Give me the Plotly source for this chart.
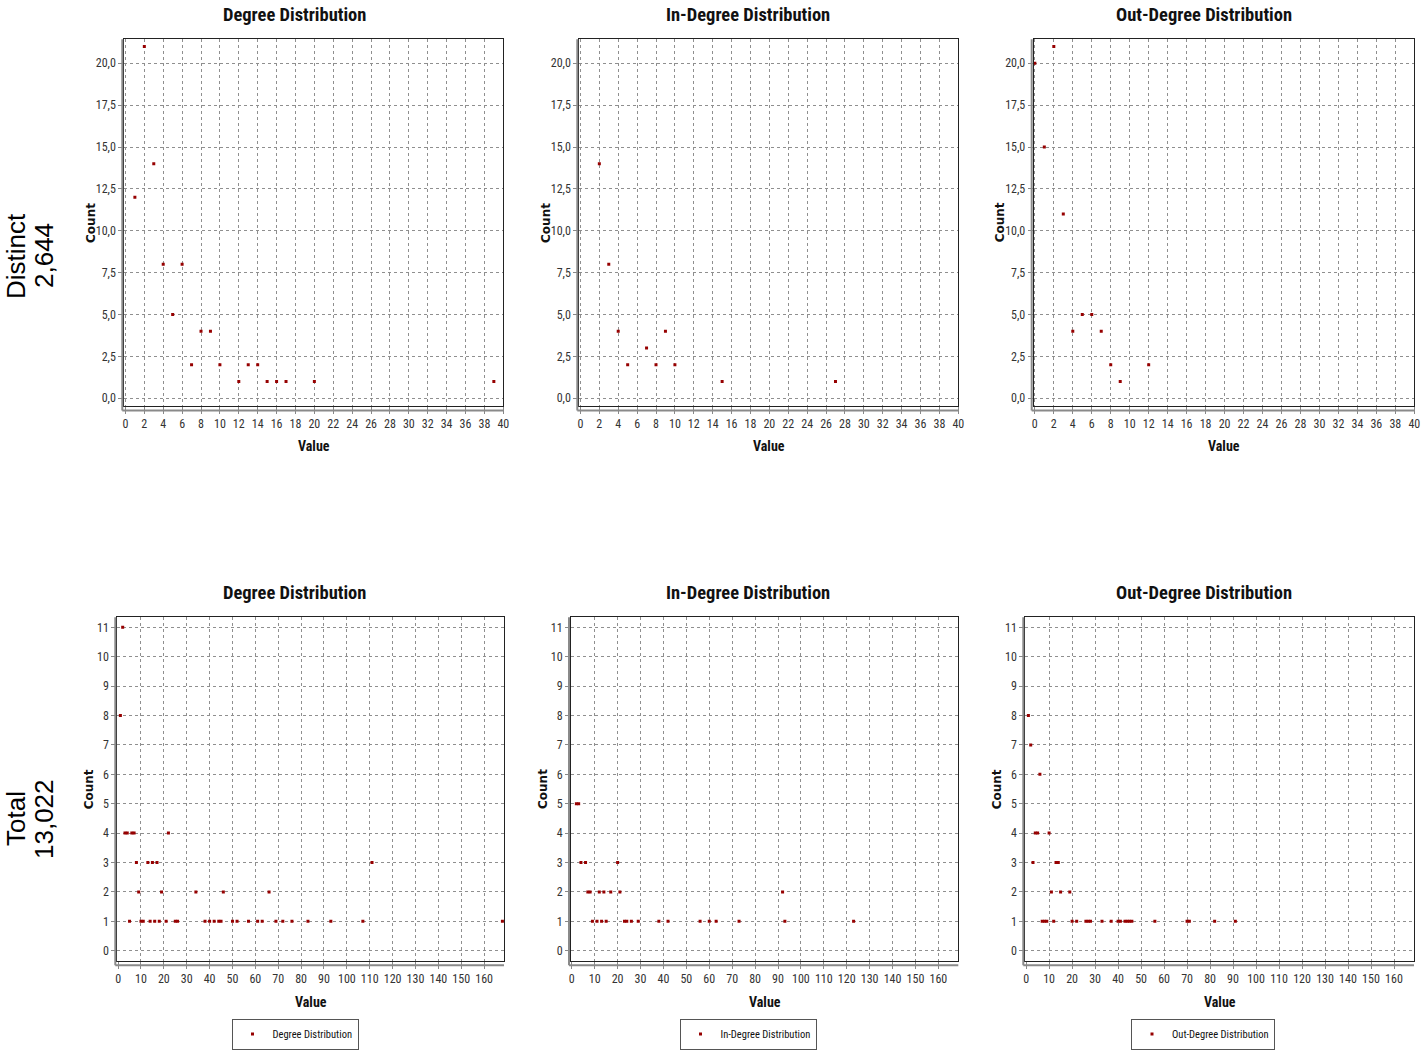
import plotly.graph_objects as go

# ---------------- data ----------------
# Distinct (top row)
deg_d_x = [1, 2, 3, 4, 5, 6, 7, 8, 9, 10, 12, 13, 14, 15, 16, 17, 20, 39]
deg_d_y = [12, 21, 14, 8, 5, 8, 2, 4, 4, 2, 1, 2, 2, 1, 1, 1, 1, 1]

in_d_x = [2, 3, 4, 5, 7, 8, 9, 10, 15, 27]
in_d_y = [14, 8, 4, 2, 3, 2, 4, 2, 1, 1]

out_d_x = [0, 1, 2, 3, 4, 5, 6, 7, 8, 9, 12]
out_d_y = [20, 15, 21, 11, 4, 5, 5, 4, 2, 1, 2]

# Total (bottom row)
deg_t_x = [2, 1, 3, 4, 6, 7, 22, 8, 13, 15, 17, 111, 9, 19, 34, 46, 66,
           5, 10, 11, 14, 16, 18, 21, 25, 26, 38, 40, 42, 44, 45, 50, 52, 57,
           61, 63, 69, 72, 76, 83, 93, 107, 168]
deg_t_y = [11, 8, 4, 4, 4, 4, 4, 3, 3, 3, 3, 3, 2, 2, 2, 2, 2,
           1, 1, 1, 1, 1, 1, 1, 1, 1, 1, 1, 1, 1, 1, 1, 1, 1,
           1, 1, 1, 1, 1, 1, 1, 1, 1]

in_t_x = [2, 3, 4, 6, 20, 7, 8, 12, 14, 17, 21, 92,
          9, 11, 13, 15, 23, 24, 26, 29, 38, 42, 56, 60, 63, 73, 93, 123]
in_t_y = [5, 5, 3, 3, 3, 2, 2, 2, 2, 2, 2, 2,
          1, 1, 1, 1, 1, 1, 1, 1, 1, 1, 1, 1, 1, 1, 1, 1]

out_t_x = [1, 2, 6, 4, 5, 10, 3, 13, 14, 11, 15, 19,
           7, 8, 9, 12, 20, 22, 26, 27, 28, 33, 37, 40, 41, 43, 44, 45, 46,
           56, 70, 71, 82, 91]
out_t_y = [8, 7, 6, 4, 4, 4, 3, 3, 3, 2, 2, 2,
           1, 1, 1, 1, 1, 1, 1, 1, 1, 1, 1, 1, 1, 1, 1, 1, 1,
           1, 1, 1, 1, 1]

titles = ["Degree Distribution", "In-Degree Distribution", "Out-Degree Distribution"]
row_label_names = ["Distinct", "Total"]
row_label_values = ["2,644", "13,022"]

top_xticks = list(range(0, 41, 2))
top_yticks = [0, 2.5, 5, 7.5, 10, 12.5, 15, 17.5, 20]
top_yticktext = ["0,0", "2,5", "5,0", "7,5", "10,0", "12,5", "15,0", "17,5", "20,0"]
bot_xticks = list(range(0, 161, 10))
bot_yticks = list(range(0, 12))

# ---------------- layout geometry (page pixels) ----------------
W, H = 1422, 1050
COND = "Roboto Condensed, DejaVu Sans Condensed, sans-serif"
RED = "#960000"

top_x_dom = [(124.3, 503.3), (579.3, 958.3), (1033.7, 1414.3)]
bot_x_dom = [(117.3, 504.0), (571.0, 958.3), (1025.3, 1414.0)]
top_y_dom = (39.3, 406.0)
bot_y_dom = (617.3, 960.7)


def fx(p):
    return min(max(p / W, 0.0), 1.0)


def fy(p):
    return min(max(1 - p / H, 0.0), 1.0)


fig = go.Figure()

series = [
    (deg_d_x, deg_d_y, 0, 0), (in_d_x, in_d_y, 0, 1), (out_d_x, out_d_y, 0, 2),
    (deg_t_x, deg_t_y, 1, 0), (in_t_x, in_t_y, 1, 1), (out_t_x, out_t_y, 1, 2),
]

layout = {}
annotations = []
shapes = []
for idx, (xs, ys, r, c) in enumerate(series):
    n = idx + 1
    xa = "x" if n == 1 else f"x{n}"
    ya = "y" if n == 1 else f"y{n}"
    xkey = "xaxis" if n == 1 else f"xaxis{n}"
    ykey = "yaxis" if n == 1 else f"yaxis{n}"
    legend_name = ["legend", "legend2", "legend3"][c]
    fig.add_trace(go.Scatter(
        x=xs, y=ys, mode="markers", xaxis=xa, yaxis=ya,
        marker=dict(symbol="square", size=3, color=RED, line=dict(width=0)),
        name=titles[c], showlegend=(r == 1), legend=legend_name,
    ))
    xdp = (top_x_dom if r == 0 else bot_x_dom)[c]
    ydp = top_y_dom if r == 0 else bot_y_dom
    xd = [fx(xdp[0]), fx(xdp[1])]
    yd = [fy(ydp[1]), fy(ydp[0])]
    if r == 0:
        xr = [-0.12, 40.0]; yr = [-0.46, 21.43]
        xt = dict(tickvals=top_xticks, ticktext=[str(v) for v in top_xticks])
        yt = dict(tickvals=top_yticks, ticktext=top_yticktext)
    else:
        xr = [-0.35, 168.7]; yr = [-0.34, 11.34]
        xt = dict(tickvals=bot_xticks, ticktext=[str(v) for v in bot_xticks])
        yt = dict(tickvals=bot_yticks, ticktext=[str(v) for v in bot_yticks])
    common = dict(showgrid=True, gridcolor="#8f8f8f", griddash="dot", gridwidth=1,
                  zeroline=False, showline=True, linecolor="#222222", linewidth=1,
                  mirror=True, ticks="outside", tickcolor="#888888", tickangle=0,
                  automargin=False,
                  tickfont=dict(family=COND, size=12, color="#333333"))
    layout[xkey] = dict(domain=xd, range=xr, anchor=ya, tickmode="array", ticklen=7,
                        **xt, **common)
    layout[ykey] = dict(domain=yd, range=yr, anchor=xa, tickmode="array", ticklen=5,
                        **yt, **common)

    # gray offset axis lines (left and bottom), as in the original chart style
    pw = xdp[1] - xdp[0]
    ph = ydp[1] - ydp[0]
    bx = -2.0 / pw
    by = -4.5 / ph
    shapes.append(dict(type="line", xref=f"{xa} domain", yref=f"{ya} domain",
                       x0=bx, x1=1.0, y0=by, y1=by,
                       line=dict(color="#8a8a8a", width=2)))
    shapes.append(dict(type="line", xref=f"{xa} domain", yref=f"{ya} domain",
                       x0=bx, x1=bx, y0=by, y1=1.0,
                       line=dict(color="#8a8a8a", width=2)))

    # titles and axis titles
    title_cx = [294, 748, 1204][c]
    title_y = 15 if r == 0 else 593
    annotations.append(dict(text=f"<b>{titles[c]}</b>", xref="paper", yref="paper",
                            x=fx(title_cx), y=fy(title_y), showarrow=False,
                            xanchor="center", yanchor="middle",
                            font=dict(family=COND, size=18.5, color="#111111")))
    value_y = 446 if r == 0 else 1002
    annotations.append(dict(text="<b>Value</b>", xref="paper", yref="paper",
                            x=fx((xdp[0] + xdp[1]) / 2), y=fy(value_y), showarrow=False,
                            xanchor="center", yanchor="middle",
                            font=dict(family=COND, size=14, color="#111111")))
    count_x = xdp[0] - 34 if r == 0 else xdp[0] - 28
    annotations.append(dict(text="<b>Count</b>", xref="paper", yref="paper",
                            x=fx(count_x), y=fy((ydp[0] + ydp[1]) / 2), showarrow=False,
                            textangle=-90, xanchor="center", yanchor="middle",
                            font=dict(family="DejaVu Sans, Verdana, sans-serif", size=12,
                                      color="#111111")))

# row labels
for i in range(2):
    cy = 256 if i == 0 else 819
    annotations.append(dict(text=row_label_names[i], xref="paper", yref="paper",
                            x=fx(16), y=fy(cy), showarrow=False, textangle=-90,
                            xanchor="center", yanchor="middle",
                            font=dict(family="Liberation Sans, Arial, sans-serif", size=26,
                                      color="#000000")))
    annotations.append(dict(text=row_label_values[i], xref="paper", yref="paper",
                            x=fx(44), y=fy(cy), showarrow=False, textangle=-90,
                            xanchor="center", yanchor="middle",
                            font=dict(family="Liberation Sans, Arial, sans-serif", size=26,
                                      color="#000000")))

leg_common = dict(orientation="h", xanchor="center", yanchor="middle",
                  bgcolor="#ffffff", bordercolor="#555555", borderwidth=1,
                  font=dict(family=COND, size=10.5, color="#111111"),
                  itemsizing="trace", itemwidth=30, tracegroupgap=0)
layout["legend"] = dict(x=fx(295), y=fy(1034), **leg_common)
layout["legend2"] = dict(x=fx(748), y=fy(1034), **leg_common)
layout["legend3"] = dict(x=fx(1203), y=fy(1034), **leg_common)

fig.update_layout(
    width=W, height=H, margin=dict(l=0, r=0, t=0, b=0, autoexpand=False),
    paper_bgcolor="#ffffff", plot_bgcolor="#ffffff",
    annotations=annotations, shapes=shapes, **layout,
)

fig.write_html("out.html", config={"displayModeBar": False},
               post_script="document.body.style.margin='0';")
